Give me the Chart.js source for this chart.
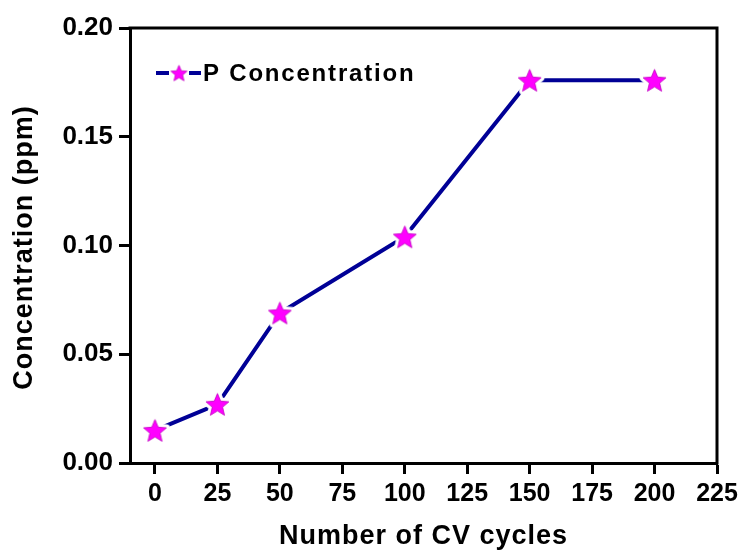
<!DOCTYPE html>
<html>
<head>
<meta charset="utf-8">
<title>P Concentration vs CV cycles</title>
<script src="https://cdn.jsdelivr.net/npm/chart.js@4.4.0/dist/chart.umd.min.js"></script>
<style>
    html, body { margin: 0; padding: 0; background: #ffffff; }
    #wrap { width: 744px; height: 552px; }
</style>
</head>
<body>
<div id="wrap"><canvas id="concChart" width="744" height="552"></canvas></div>
<script>
// Data
const cycles = [0, 25, 50, 100, 150, 200];
const concentration = [0.015, 0.027, 0.069, 0.104, 0.176, 0.176];
const xTicks = [0, 25, 50, 75, 100, 125, 150, 175, 200, 225];
const yTicks = [0, 0.05, 0.10, 0.15, 0.20];
const seriesLabel = 'P Concentration';
const xTitle = 'Number of CV cycles';
const yTitle = 'Concentration (ppm)';

const LINE_COLOR = '#000096';
const STAR_COLOR = '#ff00ff';
const FONT = 'Arial, "Liberation Sans", sans-serif';

// Filled five-point star on its own canvas, with a white halo so the line stops short of it
function makeStar(r, halo) {
    const size = Math.ceil(r * 2 + halo * 2 + 2);
    const c = document.createElement('canvas');
    c.width = size;
    c.height = size;
    const g = c.getContext('2d');
    g.translate(size / 2, size / 2 + r * 0.1);
    g.beginPath();
    for (let i = 0; i < 10; i++) {
        const a = -Math.PI / 2 + i * Math.PI / 5;
        const rad = i % 2 ? r * 0.45 : r;
        const px = Math.cos(a) * rad, py = Math.sin(a) * rad;
        if (i === 0) g.moveTo(px, py); else g.lineTo(px, py);
    }
    g.closePath();
    g.lineJoin = 'round';
    if (halo > 0) {
        g.strokeStyle = '#ffffff';
        g.lineWidth = halo * 2;
        g.stroke();
    }
    g.fillStyle = STAR_COLOR;
    g.fill();
    g.strokeStyle = '#c000c0';
    g.lineWidth = 0.8;
    g.stroke();
    return c;
}

const starPoint = makeStar(12, 3.5);
const starLegend = makeStar(8.5, 0);

// Top and right edges of the plot frame
const framePlugin = {
    id: 'frame',
    afterDraw(chart) {
        const { ctx, chartArea: a } = chart;
        ctx.save();
        ctx.strokeStyle = '#000';
        ctx.lineWidth = 3;
        ctx.lineCap = 'square';
        ctx.beginPath();
        ctx.moveTo(a.left, a.top);
        ctx.lineTo(a.right, a.top);
        ctx.lineTo(a.right, a.bottom);
        ctx.stroke();
        ctx.restore();
    }
};

// Axis titles, drawn by hand so the letters can be spaced out a little
const axisTitles = {
    id: 'axisTitles',
    afterDraw(chart) {
        const { ctx, chartArea: a } = chart;
        ctx.save();
        ctx.fillStyle = '#000';
        ctx.font = 'bold 27px ' + FONT;
        ctx.textAlign = 'center';
        ctx.textBaseline = 'alphabetic';
        if ('letterSpacing' in ctx) ctx.letterSpacing = '1px';
        ctx.fillText(xTitle, (a.left + a.right) / 2, 544);
        ctx.translate(32, (a.top + a.bottom) / 2 + 2);
        ctx.rotate(-Math.PI / 2);
        ctx.fillText(yTitle, 0, 0);
        ctx.restore();
    }
};

// Legend inside the plot: line - star - line, then the label
const insideLegend = {
    id: 'insideLegend',
    afterDraw(chart) {
        const { ctx, chartArea: a } = chart;
        const y = a.top + 45;
        const x0 = a.left + 26;
        ctx.save();
        ctx.strokeStyle = LINE_COLOR;
        ctx.lineWidth = 4;
        ctx.beginPath();
        ctx.moveTo(x0, y); ctx.lineTo(x0 + 13, y);
        ctx.moveTo(x0 + 33, y); ctx.lineTo(x0 + 45, y);
        ctx.stroke();
        ctx.drawImage(starLegend, x0 + 23 - starLegend.width / 2, y - starLegend.height / 2);
        ctx.fillStyle = '#000';
        ctx.font = 'bold 24px ' + FONT;
        ctx.textBaseline = 'middle';
        if ('letterSpacing' in ctx) ctx.letterSpacing = '1.8px';
        ctx.fillText(chart.data.datasets[0].label, x0 + 47, y + 1);
        ctx.restore();
    }
};

const ctx = document.getElementById('concChart');
new Chart(ctx, {
    type: 'scatter',
    data: {
        datasets: [{
            label: seriesLabel,
            data: cycles.map((c, i) => ({ x: c, y: concentration[i] })),
            showLine: true,
            borderColor: LINE_COLOR,
            borderWidth: 4,
            pointStyle: starPoint,
            pointRadius: 12,
            pointHoverRadius: 12,
            tension: 0,
            clip: false
        }]
    },
    options: {
        responsive: false,
        animation: false,
        devicePixelRatio: 1,
        layout: { padding: { top: 28, right: 27, left: 0, bottom: 0 } },
        plugins: {
            legend: { display: false },
            tooltip: { enabled: false }
        },
        scales: {
            x: {
                type: 'linear',
                min: -10,
                max: 225,
                afterBuildTicks: scale => { scale.ticks = xTicks.map(v => ({ value: v })); },
                afterFit: scale => { scale.height = 89; },
                ticks: {
                    color: '#000',
                    font: { family: FONT, size: 25, weight: 'bold' },
                    padding: 5,
                    maxRotation: 0
                },
                grid: {
                    drawOnChartArea: false,
                    drawTicks: true,
                    tickLength: 11,
                    tickWidth: 3,
                    tickColor: '#000'
                },
                border: { display: true, color: '#000', width: 3 }
            },
            y: {
                min: 0,
                max: 0.2,
                afterBuildTicks: scale => { scale.ticks = yTicks.map(v => ({ value: v })); },
                afterFit: scale => { scale.width = 130; },
                ticks: {
                    color: '#000',
                    font: { family: FONT, size: 26, weight: 'bold' },
                    padding: 6,
                    callback: v => v.toFixed(2)
                },
                grid: {
                    drawOnChartArea: false,
                    drawTicks: true,
                    tickLength: 11,
                    tickWidth: 3,
                    tickColor: '#000'
                },
                border: { display: true, color: '#000', width: 3 }
            }
        }
    },
    plugins: [framePlugin, axisTitles, insideLegend]
});
</script>
</body>
</html>
